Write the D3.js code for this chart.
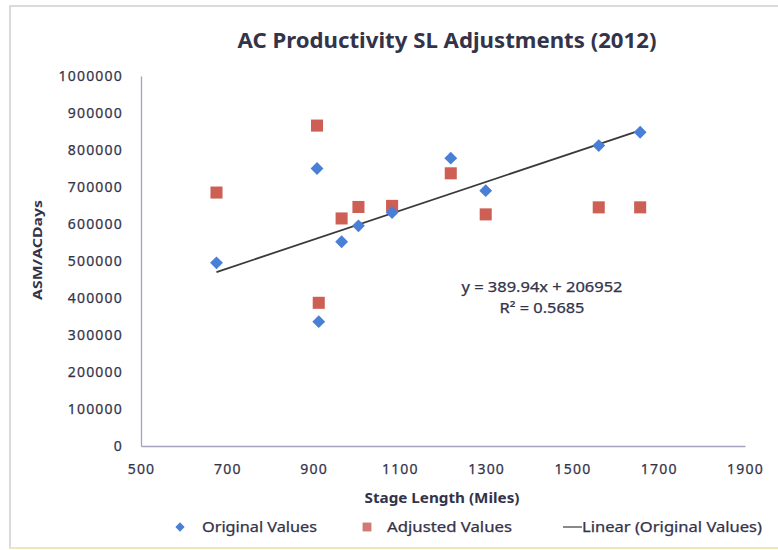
<!DOCTYPE html>
<html>
<head>
<meta charset="utf-8">
<script src="https://cdn.jsdelivr.net/npm/d3@7"></script>
<style>
  body { margin: 0; background: #fff; }
  text { font-family: "Noto Sans", "Open Sans", sans-serif; fill: #33334a; }
</style>
</head>
<body>
<svg id="chart" width="778" height="550"></svg>
<script>
// stage length (miles) shared by both series
var stageLength = [675, 908, 912, 965, 1004, 1082, 1218, 1299, 1561, 1657];
var originalValues = [495000, 750000, 336000, 552000, 595000, 631000, 778000, 690000, 812000, 848000];
var adjustedValues = [685000, 866000, 387000, 615000, 646000, 649000, 737000, 626000, 645000, 645000];
var xTicks = [500, 700, 900, 1100, 1300, 1500, 1700, 1900];
var yTicks = [0, 100000, 200000, 300000, 400000, 500000, 600000, 700000, 800000, 900000, 1000000];
var trendSlope = 389.94;
var trendIntercept = 206952;
var trendLabel = ["y = 389.94x + 206952", "R² = 0.5685"];

var svg = d3.select("#chart");

// outer chart frame
svg.append("rect")
  .attr("x", 10).attr("y", 6)
  .attr("width", 780).attr("height", 542)
  .attr("fill", "#fff")
  .attr("stroke", "#cfcfd4")
  .attr("stroke-width", 1.5);
svg.append("line")
  .attr("x1", 10).attr("x2", 778)
  .attr("y1", 548).attr("y2", 548)
  .attr("stroke", "#efe6bd").attr("stroke-width", 2);

var x = d3.scaleLinear().domain([500, 1900]).range([141, 745]);
var y = d3.scaleLinear().domain([0, 1000000]).range([446, 76]);

var xaxis = d3.axisBottom(x).tickValues(xTicks).tickSize(0).tickPadding(18).tickFormat(d3.format("d"));
var gx = svg.append("g")
  .attr("transform", "translate(0,446)")
  .call(xaxis);

var yaxis = d3.axisLeft(y).tickValues(yTicks).tickSize(0).tickPadding(18).tickFormat(d3.format("d"));
var gy = svg.append("g")
  .attr("transform", "translate(141,0)")
  .call(yaxis);

[gx, gy].forEach(function(g) {
  g.select(".domain").attr("stroke", "#a3a3bf").attr("stroke-width", 1.3);
  g.selectAll("text")
    .style("font-family", "'Noto Sans', sans-serif")
    .style("font-size", "14px")
    .style("letter-spacing", "1.2px")
    .attr("fill", "#33334a")
    .attr("stroke", "#33334a")
    .attr("stroke-width", 0.25);
});
gy.selectAll("text").attr("dy", "0.35em");

// title
svg.append("text")
  .attr("x", 447).attr("y", 48)
  .attr("text-anchor", "middle")
  .attr("textLength", 419)
  .attr("lengthAdjust", "spacingAndGlyphs")
  .style("font-size", "22px")
  .style("font-weight", "bold")
  .text("AC Productivity SL Adjustments (2012)");

// axis titles
svg.append("text")
  .attr("x", 442).attr("y", 503)
  .attr("text-anchor", "middle")
  .attr("textLength", 155)
  .attr("lengthAdjust", "spacingAndGlyphs")
  .style("font-size", "14px")
  .style("font-weight", "bold")
  .text("Stage Length (Miles)");

svg.append("text")
  .attr("transform", "translate(42,250) rotate(-90)")
  .attr("text-anchor", "middle")
  .attr("textLength", 100)
  .attr("lengthAdjust", "spacingAndGlyphs")
  .style("font-size", "13px")
  .style("font-weight", "bold")
  .text("ASM/ACDays");

// trend line (linear fit of original values)
var xMin = d3.min(stageLength), xMax = d3.max(stageLength);
svg.append("line")
  .attr("x1", x(xMin)).attr("y1", y(trendSlope * xMin + trendIntercept))
  .attr("x2", x(xMax)).attr("y2", y(trendSlope * xMax + trendIntercept))
  .attr("stroke", "#3a3a3a")
  .attr("stroke-width", 1.8);

var diamond = d3.symbol().type(d3.symbolDiamond2).size(105);
var square = d3.symbol().type(d3.symbolSquare2).size(185);

svg.append("g").selectAll("path")
  .data(d3.zip(stageLength, adjustedValues))
  .enter().append("path")
    .attr("transform", function(d) { return "translate(" + x(d[0]) + "," + y(d[1]) + ")"; })
    .attr("d", square)
    .attr("fill", "#cd5f55");

svg.append("g").selectAll("path")
  .data(d3.zip(stageLength, originalValues))
  .enter().append("path")
    .attr("transform", function(d) { return "translate(" + x(d[0]) + "," + y(d[1]) + ")"; })
    .attr("d", diamond)
    .attr("fill", "#4a7fd8");

// equation label
svg.append("g").selectAll("text")
  .data(trendLabel)
  .enter().append("text")
    .attr("x", 542)
    .attr("y", function(d, i) { return 292 + i * 21; })
    .attr("text-anchor", "middle")
    .attr("textLength", function(d, i) { return i === 0 ? 161 : 85; })
    .attr("lengthAdjust", "spacingAndGlyphs")
    .attr("stroke", "#33334a").attr("stroke-width", 0.25)
    .style("font-size", "14px")
    .text(function(d) { return d; });

// legend
var legend = svg.append("g");
legend.append("path")
  .attr("transform", "translate(180,527)")
  .attr("d", d3.symbol().type(d3.symbolDiamond2).size(55))
  .attr("fill", "#4a7fd8");
legend.append("text")
  .attr("x", 202).attr("y", 532)
  .attr("textLength", 115).attr("lengthAdjust", "spacingAndGlyphs")
  .attr("stroke", "#33334a").attr("stroke-width", 0.25)
  .style("font-size", "14px")
  .text("Original Values");
legend.append("path")
  .attr("transform", "translate(367,527)")
  .attr("d", d3.symbol().type(d3.symbolSquare2).size(100))
  .attr("fill", "#d07a72");
legend.append("text")
  .attr("x", 387).attr("y", 532)
  .attr("textLength", 125).attr("lengthAdjust", "spacingAndGlyphs")
  .attr("stroke", "#33334a").attr("stroke-width", 0.25)
  .style("font-size", "14px")
  .text("Adjusted Values");
legend.append("line")
  .attr("x1", 563).attr("x2", 582)
  .attr("y1", 527).attr("y2", 527)
  .attr("stroke", "#3a3a3a").attr("stroke-width", 1.2);
legend.append("text")
  .attr("x", 582).attr("y", 532)
  .attr("textLength", 180).attr("lengthAdjust", "spacingAndGlyphs")
  .attr("stroke", "#33334a").attr("stroke-width", 0.25)
  .style("font-size", "14px")
  .text("Linear (Original Values)");
</script>
</body>
</html>
